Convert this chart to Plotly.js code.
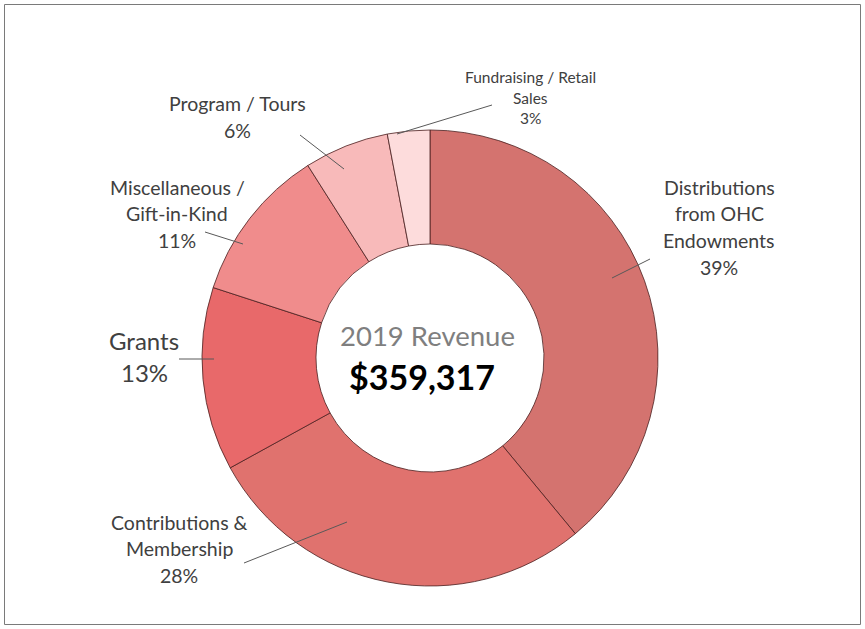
<!DOCTYPE html>
<html>
<head>
<meta charset="utf-8">
<script src="https://cdn.plot.ly/plotly-3.0.1.min.js"></script>
<style>html,body{margin:0;padding:0;background:#fff;}#chart{width:865px;height:629px;}</style>
</head>
<body>
<div id="chart"></div>
<script>
const categories = ["Distributions from OHC Endowments", "Contributions & Membership", "Grants", "Miscellaneous / Gift-in-Kind", "Program / Tours", "Fundraising / Retail Sales"];
const values = [39, 28, 13, 11, 6, 3];
const colors = ["#D4736F", "#E0726E", "#E8696A", "#F08C8C", "#F8BABA", "#FDDCDC"];
const labelLines = [
  ["Distributions", "from OHC", "Endowments", "39%"],
  ["Contributions &", "Membership", "28%"],
  ["Grants", "13%"],
  ["Miscellaneous /", "Gift-in-Kind", "11%"],
  ["Program / Tours", "6%"],
  ["Fundraising / Retail", "Sales", "3%"]
];
const centerTitle = "2019 Revenue";
const centerTotal = "$359,317";

const W = 865, H = 629;
const px = x => x / W, py = y => 1 - y / H;

// label layout: center x, first line y, line spacing, font size
const labelPos = [
  {x: 719, y: 187, dy: 26.7, size: 19.5},
  {x: 179, y: 522, dy: 26.5, size: 19.5},
  {x: 144, y: 340, dy: 32, size: 24},
  {x: 177, y: 187, dy: 26.5, size: 19.5},
  {x: 238, y: 103, dy: 27, size: 19.5},
  {x: 530, y: 77, dy: 20.5, size: 15.5}
];
const leaders = [
  [650, 259, 612, 278],
  [244, 563, 347, 522],
  [179, 359, 214, 359],
  [205, 232, 243, 244],
  [300, 135, 344, 169],
  [492, 105, 397, 134]
];

const annotations = [];
labelLines.forEach((lines, i) => {
  const p = labelPos[i];
  lines.forEach((t, j) => {
    annotations.push({
      text: t, showarrow: false, xref: "paper", yref: "paper",
      x: px(p.x), y: py(p.y + j * p.dy), xanchor: "center", yanchor: "middle",
      font: {family: "Lato, 'Open Sans', sans-serif", size: p.size, color: "#404040"}
    });
  });
});
annotations.push({text: centerTitle, showarrow: false, xref: "paper", yref: "paper",
  x: px(427), y: py(335), xanchor: "center", yanchor: "middle",
  font: {family: "Lato, 'Open Sans', sans-serif", size: 27.5, color: "#7F7F7F"}});
annotations.push({text: "<b>" + centerTotal + "</b>", showarrow: false, xref: "paper", yref: "paper",
  x: px(422), y: py(376), xanchor: "center", yanchor: "middle",
  font: {family: "Lato, 'Open Sans', sans-serif", size: 34, color: "#000000"}});

const shapes = leaders.map(l => ({type: "line", xref: "paper", yref: "paper",
  x0: px(l[0]), y0: py(l[1]), x1: px(l[2]), y1: py(l[3]),
  line: {color: "#595959", width: 1}}));
shapes.push({type: "rect", xref: "paper", yref: "paper", x0: px(4.5), y0: py(4.5), x1: px(860.5), y1: py(624.5),
  line: {color: "#7a7a7a", width: 1}});

const cx = 430, cy = 358, r = 228;
const trace = {
  type: "pie", labels: categories, values: values, hole: 0.5,
  sort: false, direction: "clockwise", rotation: 0,
  marker: {colors: colors, line: {color: "#4a2020", width: 0.8}},
  textinfo: "none", hoverinfo: "label+percent", showlegend: false,
  domain: {x: [px(cx - r), px(cx + r)], y: [py(cy + r), py(cy - r)]}
};

Plotly.newPlot("chart", [trace], {
  width: W, height: H, margin: {l: 0, r: 0, t: 0, b: 0},
  paper_bgcolor: "#ffffff", plot_bgcolor: "#ffffff",
  annotations: annotations, shapes: shapes, showlegend: false
}, {displayModeBar: false, staticPlot: true});
</script>
</body>
</html>
